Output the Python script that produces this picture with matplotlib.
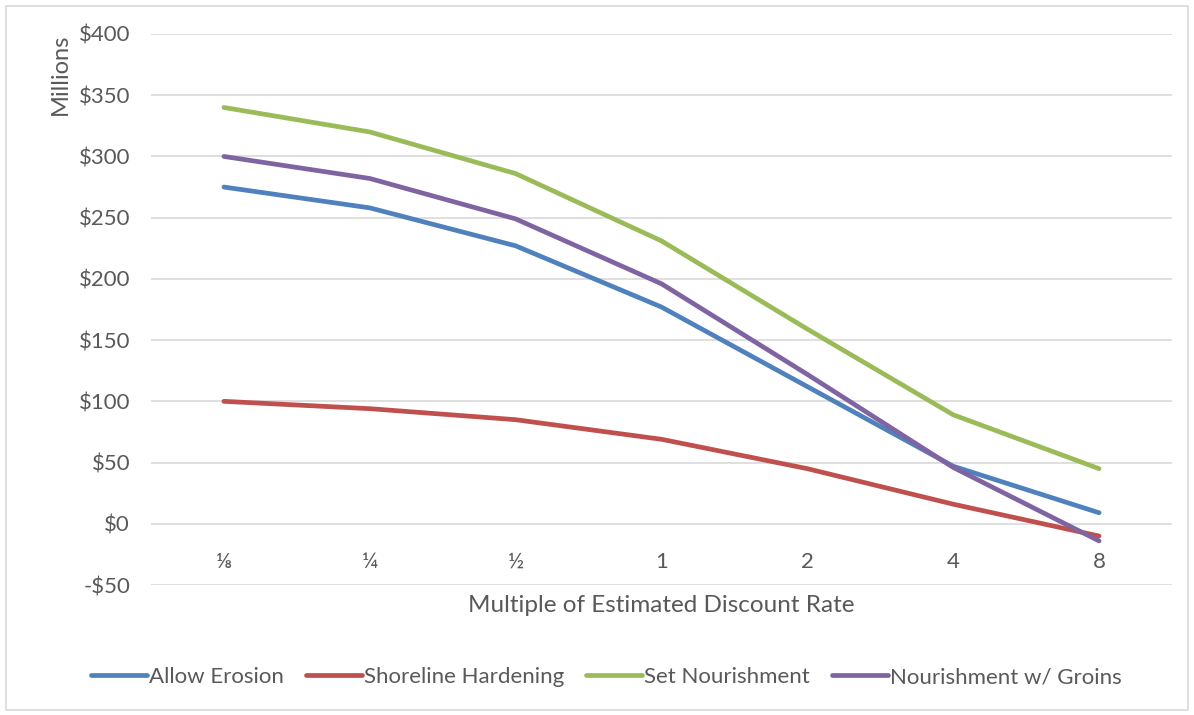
import matplotlib.pyplot as plt
from matplotlib.patches import Rectangle

plt.rcParams['font.family'] = ['Lato', 'DejaVu Sans']

categories = ['⅛', '¼', '½', '1', '2', '4', '8']
allow_erosion = [275, 258, 227, 177, 112, 47, 9]
shoreline_hardening = [100, 94, 85, 69, 45, 16, -10]
set_nourishment = [340, 320, 286, 231, 159, 89, 45]
nourishment_groins = [300, 282, 249, 196, 122, 46, -14]

series = [
    ('Allow Erosion', allow_erosion, '#4F81BD'),
    ('Shoreline Hardening', shoreline_hardening, '#C0504D'),
    ('Set Nourishment', set_nourishment, '#9BBB59'),
    ('Nourishment w/ Groins', nourishment_groins, '#8064A2'),
]

text_color = '#595959'

fig = plt.figure(figsize=(11.94, 7.15), dpi=100)
ax = fig.add_axes([151 / 1194, 1 - 585 / 715, 1021 / 1194, 551 / 715])

x = list(range(len(categories)))
for name, vals, color in series:
    ax.plot(x, vals, color=color, lw=3.4, solid_capstyle='round',
            solid_joinstyle='round', label=name)

ax.set_xlim(-0.5, len(categories) - 0.5)
ax.set_ylim(-50, 400)
yticks = list(range(-50, 401, 50))
ax.set_yticks(yticks)
ax.set_yticklabels([f'-${-v}' if v < 0 else f'${v}' for v in yticks])
ax.grid(axis='y', color='#D9D9D9', lw=1.2)
ax.set_axisbelow(True)

for s in ax.spines.values():
    s.set_visible(False)
ax.spines['bottom'].set_position(('data', 0))

ax.set_xticks(x)
ax.set_xticklabels(categories)
ax.tick_params(axis='x', length=0, pad=20, labelsize=16, labelcolor=text_color)
ax.tick_params(axis='y', length=0, pad=15, labelsize=16, labelcolor=text_color)

ax.set_xlabel('Multiple of Estimated Discount Rate', fontsize=17.5, color=text_color)
ax.xaxis.set_label_coords(0.5, -0.018)
ax.set_ylabel('Millions', fontsize=17, color=text_color, loc='top')
ax.yaxis.set_label_coords(-0.078, 1.0)

fig.legend(loc='center', bbox_to_anchor=(0.508, 1 - 677 / 715), ncol=4,
           frameon=False, fontsize=16, handlelength=2.5, handletextpad=0.1,
           columnspacing=1.0, labelcolor=text_color)

fig.patches.append(Rectangle((6 / 1194, 5 / 715), 1182 / 1194, 704 / 715,
                             transform=fig.transFigure, fill=False,
                             edgecolor='#D9D9D9', lw=1.2))

fig.savefig('out.png', dpi=100)
